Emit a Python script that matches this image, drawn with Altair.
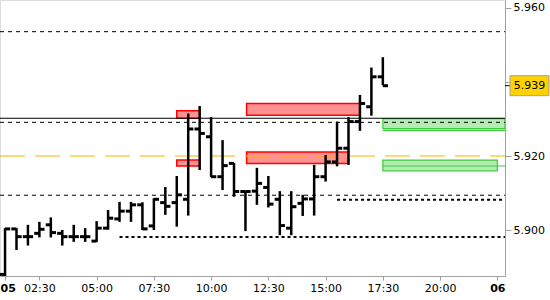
import altair as alt
import pandas as pd

# ---- OHLC bars (30-minute bars, index 0 = first bar of day "05") ----
bar_idx = list(range(34))
opens = [5.8880, 5.9003, 5.8982, 5.8991, 5.9014, 5.8991, 5.8982, 5.8982, 5.8970, 5.9005,
         5.9030, 5.9051, 5.9068, 5.9011, 5.9074, 5.9074, 5.9083, 5.9273, 5.9252, 5.9144,
         5.9180, 5.9104, 5.9105, 5.9115, 5.9083, 5.9005, 5.9072, 5.9084, 5.9144, 5.9184,
         5.9221, 5.9293, 5.9333, 5.9414]
highs = [5.9005, 5.9005, 5.9014, 5.9022, 5.9034, 5.9000, 5.9014, 5.9005, 5.9024, 5.9054,
         5.9076, 5.9076, 5.9075, 5.9086, 5.9116, 5.9146, 5.9315, 5.9335, 5.9305, 5.9243,
         5.9181, 5.9104, 5.9168, 5.9146, 5.9105, 5.9105, 5.9095, 5.9176, 5.9203, 5.9293,
         5.9305, 5.9365, 5.9439, 5.9467]
lows = [5.8870, 5.8946, 5.8958, 5.8980, 5.8980, 5.8958, 5.8968, 5.8968, 5.8968, 5.9001,
        5.9022, 5.9022, 5.9000, 5.9000, 5.9041, 5.9009, 5.9039, 5.9162, 5.9143, 5.9108,
        5.9090, 5.8997, 5.9068, 5.9061, 5.8986, 5.8986, 5.9038, 5.9039, 5.9131, 5.9172,
        5.9176, 5.9268, 5.9309, 5.9391]
closes = [5.9003, 5.8982, 5.8982, 5.9002, 5.8993, 5.8982, 5.8982, 5.8982, 5.9005, 5.9032,
          5.9051, 5.9068, 5.9003, 5.9083, 5.9064, 5.9095, 5.9273, 5.9261, 5.9144, 5.9174,
          5.9104, 5.9104, 5.9126, 5.9070, 5.9012, 5.9063, 5.9084, 5.9144, 5.9184, 5.9221,
          5.9293, 5.9342, 5.9414, 5.9390]

# ---- axis ticks ----
tick_idx = [0, 3, 8, 13, 18, 23, 28, 33, 38, 43]
tick_lbl = ["05", "02:30", "05:00", "07:30", "10:00", "12:30", "15:00", "17:30", "20:00", "06"]
bold_idx = [0, 43]
y_ticks = [5.90, 5.92, 5.94, 5.96]
hidden_y_tick = 5.94

# ---- horizontal levels ----
dashed_levels = [5.9536, 5.9291, 5.9094]
solid_levels = [5.9302]
pivot_levels = [5.9200]
dotted_levels = [5.9082, 5.8981]
dotted_start = [29, 10]

# ---- zones ----
red_x0 = [15.0, 15.0, 21.1, 21.1]
red_x1 = [17.0, 17.0, 31.0, 30.0]
red_top = [5.9322, 5.9189, 5.9342, 5.9211]
red_bot = [5.9302, 5.9173, 5.9310, 5.9180]

X0, X1 = -0.44, 43.67
Y0, Y1 = 5.88757, 5.96216

green_x0 = [33.0, 33.0]
green_x1 = [X1, 43.0]
green_top = [5.9301, 5.9189]
green_bot = [5.9274, 5.9160]
green_lines = [5.9269, 5.9173]

last_price = 5.939

# ---------------------------------------------------------------
HALF = 0.45
bars = pd.DataFrame({"i": bar_idx, "o": opens, "h": highs, "l": lows, "c": closes})
bars["il"] = bars["i"] - HALF
bars["ir"] = bars["i"] + HALF

label_map = "{" + ",".join(f"'{k}':'{v}'" for k, v in zip(tick_idx, tick_lbl)) + "}"
bold_test = " || ".join(f"datum.value == {b}" for b in bold_idx)
first_test = f"datum.value == {tick_idx[0]}"

xscale = alt.Scale(domain=[X0, X1], nice=False, zero=False)
yscale = alt.Scale(domain=[Y0, Y1], nice=False, zero=False)

x_axis = alt.Axis(values=tick_idx, labelExpr=f"{label_map}[datum.value]", title=None,
                  grid=False, domainColor="#A0A0A0", tickColor="#A0A0A0", tickSize=4,
                  labelPadding=2, labelFont="DejaVu Sans", labelFontSize=11,
                  labelColor="#000000",
                  labelAlign={"condition": {"test": first_test, "value": "left"},
                              "value": "center"},
                  labelOffset={"condition": {"test": first_test, "value": -5},
                               "value": 0},
                  labelFontWeight={"condition": {"test": bold_test, "value": "bold"},
                                   "value": "normal"})
y_axis = alt.Axis(orient="right", values=y_ticks, title=None, grid=False,
                  labelExpr=f"abs(datum.value - {hidden_y_tick}) < 1e-6 ? '' : format(datum.value, '.3f')",
                  domainColor="#A0A0A0", tickColor="#A0A0A0", tickSize=6, labelPadding=2,
                  labelFont="DejaVu Sans", labelFontSize=11, labelColor="#000000")


def X(field):
    return alt.X(field, scale=xscale, axis=x_axis)


def Y(field):
    return alt.Y(field, scale=yscale, axis=y_axis)


# zones
red = pd.DataFrame({"x0": red_x0, "x1": red_x1, "t": red_top, "b": red_bot})
red_layer = alt.Chart(red).mark_rect(fill="#FF9191", stroke="#FF0000", strokeWidth=1.5).encode(
    x=X("x0:Q"), x2="x1:Q", y=Y("t:Q"), y2="b:Q")

green = pd.DataFrame({"x0": green_x0, "x1": green_x1, "t": green_top, "b": green_bot})
green_layer = alt.Chart(green).mark_rect(fill="#B4EBB4", stroke="#3CCD3C", strokeWidth=1.2,
                                         clip=True).encode(
    x=X("x0:Q"), x2="x1:Q", y=Y("t:Q"), y2="b:Q")

gl = pd.DataFrame({"y": green_lines, "x0": [green_x0[0]] * len(green_lines),
                   "x1": [X1] * len(green_lines)})
green_line_layer = alt.Chart(gl).mark_rule(color="#3CCD3C", strokeWidth=1.2).encode(
    x=X("x0:Q"), x2="x1:Q", y=Y("y:Q"))


# levels
def level_df(vals, starts=None):
    return pd.DataFrame({"y": vals,
                         "x0": starts if starts is not None else [X0] * len(vals),
                         "x1": [X1] * len(vals)})


def level_layer(df, **kw):
    return alt.Chart(df).mark_rule(**kw).encode(x=X("x0:Q"), x2="x1:Q", y=Y("y:Q"))


dashed_layer = level_layer(level_df(dashed_levels), color="#000000", strokeWidth=1, strokeDash=[4, 4])
solid_layer = level_layer(level_df(solid_levels), color="#000000", strokeWidth=1)
pivot_layer = level_layer(level_df(pivot_levels), color="#FFB000", strokeWidth=1.2, strokeDash=[25, 10])
dotted_layer = level_layer(level_df(dotted_levels, dotted_start), color="#000000", strokeWidth=2,
                           strokeDash=[3, 3])

# OHLC bars
base = alt.Chart(bars)
vert = base.mark_rule(color="#000000", strokeWidth=2.5, clip=True).encode(
    x=X("i:Q"), y=Y("l:Q"), y2="h:Q")
otick = base.mark_rule(color="#000000", strokeWidth=3, clip=True).encode(
    x=X("il:Q"), x2="i:Q", y=Y("o:Q"))
ctick = base.mark_rule(color="#000000", strokeWidth=3, clip=True).encode(
    x=X("i:Q"), x2="ir:Q", y=Y("c:Q"))

# last price label
pdf = pd.DataFrame({"p": [last_price], "t": [last_price + 0.0027], "b": [last_price - 0.0027],
                    "lbl": [f"{last_price:.3f}"]})
ptick = alt.Chart(pdf).mark_rule(color="#000000", strokeWidth=1).encode(
    x=alt.value(505), x2=alt.value(511), y=Y("p:Q"))
pbox = alt.Chart(pdf).mark_rect(fill="#FFD200", stroke="#A0A0A0", strokeWidth=1).encode(
    x=alt.value(510), x2=alt.value(549), y=Y("t:Q"), y2="b:Q")
ptext = alt.Chart(pdf).mark_text(font="DejaVu Sans", fontSize=11, color="#000000",
                                 align="center", baseline="middle").encode(
    x=alt.value(529.5), y=Y("p:Q"), text="lbl:N")

chart = alt.layer(
    red_layer, green_layer, green_line_layer,
    dashed_layer, solid_layer, pivot_layer, dotted_layer,
    vert, otick, ctick, ptick, pbox, ptext
).properties(
    width=505, height=276, autosize="none",
    padding={"left": 0, "top": 0, "right": 45, "bottom": 24}
).configure_view(stroke=None).configure(background="#FFFFFF")

chart.save("out.html", embed_options={"renderer": "svg", "actions": False})
